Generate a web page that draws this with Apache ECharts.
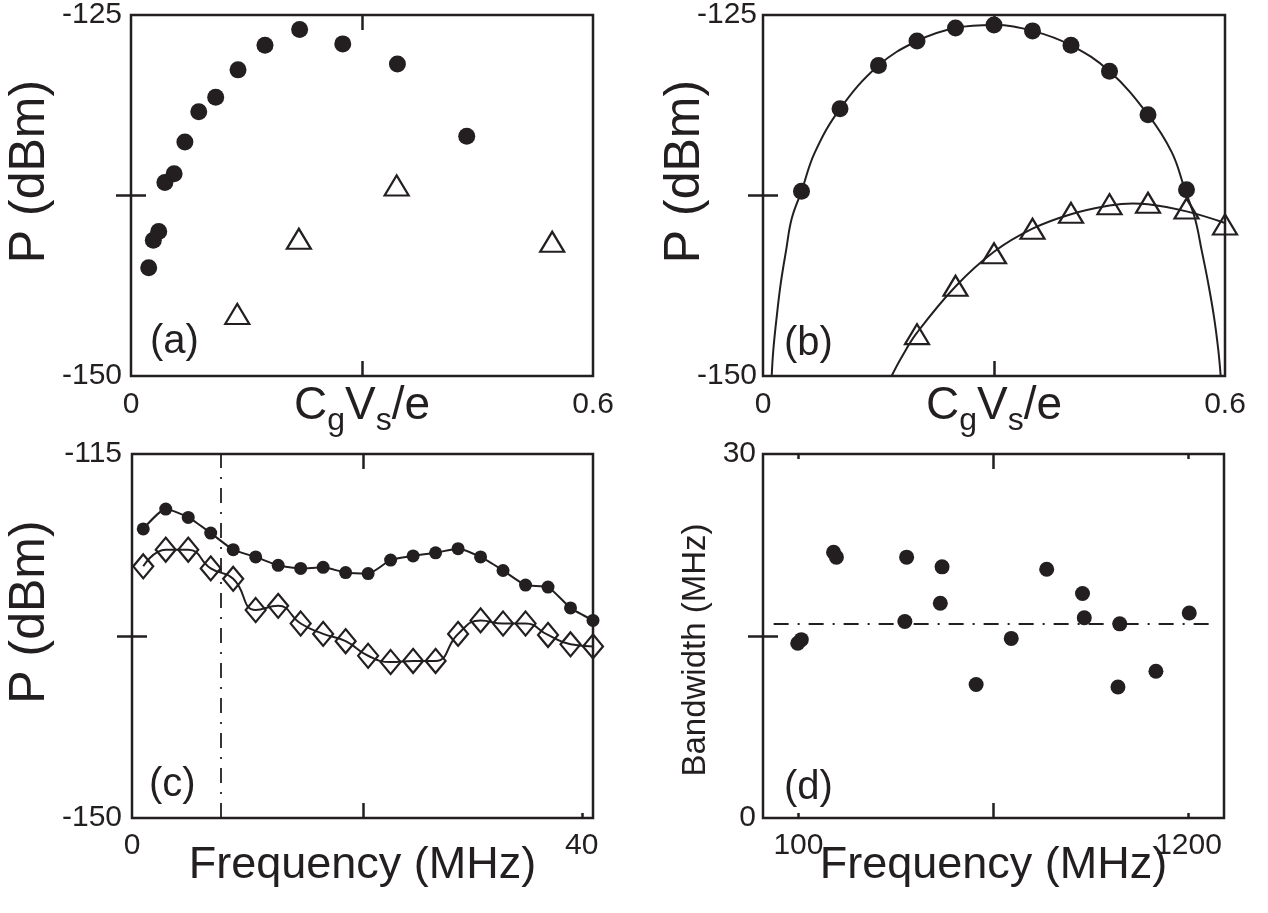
<!DOCTYPE html>
<html>
<head>
<meta charset="utf-8">
<script src="https://cdn.jsdelivr.net/npm/echarts@6/dist/echarts.min.js"></script>
<style>
html,body{margin:0;padding:0;background:#fff;}
#chart{width:1268px;height:913px;}
</style>
</head>
<body>
<div id="chart"></div>
<script>
// ---------- data ----------
// panel (a)
const aCircleX = [0.023,0.029,0.036,0.044,0.056,0.070,0.088,0.110,0.139,0.174,0.219,0.275,0.346,0.436];
const aCircleY = [-142.5,-140.6,-140.0,-136.6,-136.0,-133.8,-131.7,-130.7,-128.8,-127.1,-126.0,-127.0,-128.4,-133.4];
const aTriX = [0.138,0.218,0.345,0.547];
const aTriY = [-145.7,-140.5,-136.8,-140.7];
// panel (b)
const bCircleX = [0.05,0.10,0.15,0.20,0.25,0.30,0.35,0.40,0.45,0.50,0.55];
const bCircleY = [-137.2,-131.5,-128.5,-126.8,-125.9,-125.7,-126.1,-127.1,-128.9,-131.9,-137.1];
const bTriX = [0.20,0.25,0.30,0.35,0.40,0.45,0.50,0.55,0.60];
const bTriY = [-147.1,-143.75,-141.5,-139.8,-138.7,-138.1,-138.0,-138.4,-139.5];
const bFitCircleX = [0.0113,0.0134,0.0178,0.023,0.030,0.0373,0.05,0.0675,0.10,0.15,0.20,0.25,0.30,0.35,0.40,0.45,0.50,0.5308,0.548,0.561,0.5697,0.5783,0.5857,0.5913,0.5944];
const bFitCircleY = [-150,-148.2,-145.9,-143.6,-141.3,-139.1,-137.2,-134.5,-131.5,-128.5,-126.8,-125.9,-125.7,-126.1,-127.1,-128.9,-131.9,-134.5,-137.1,-139.1,-141.3,-143.6,-145.9,-148.2,-150];
const bFitTriX = [0.167,0.18,0.20,0.25,0.30,0.35,0.40,0.45,0.48,0.50,0.55,0.60];
const bFitTriY = [-150,-148.7,-147.0,-143.8,-141.4,-139.8,-138.8,-138.2,-138.05,-138.1,-138.6,-139.4];
// panel (c)
const cFreq = [1,3,5,7,9,11,13,15,17,19,21,23,25,27,29,31,33,35,37,39,41];
const cCircle = [-122.2,-120.3,-121.1,-122.6,-124.2,-124.9,-125.7,-126.0,-125.9,-126.4,-126.5,-125.2,-124.8,-124.5,-124.1,-124.9,-126.2,-127.6,-127.8,-129.8,-131.0];
const cDiamond = [-125.8,-124.2,-124.2,-126.0,-127.0,-130.0,-129.6,-131.3,-132.3,-133.0,-134.4,-135.0,-134.9,-134.9,-132.3,-131.0,-131.3,-131.3,-132.4,-133.3,-133.5];
const cCutoff = 7.9;
// panel (d)
const dFreq = [98,108,199,207,400,405,500,505,601,700,800,901,906,1001,1006,1108,1202];
const dBandwidth = [14.4,14.7,21.9,21.5,16.2,21.5,17.7,20.7,11.0,14.8,20.5,18.5,16.5,10.8,16.0,12.1,16.9];
const dMean = 16;
const dMeanFrom = 30, dMeanTo = 1277;

// tick / label values
const aXLabels = [0, 0.6], aXTicks = [0.3];
const pYLabelsAB = [-150, -125], pYTicksAB = [-137.5];
const cXLabels = [0, 40], cXTicks = [20.6], cXSmallTicks = [40];
const cYLabels = [-150, -115], cYTicks = [-132.5];
const dXLabels = [100, 1200], dXTicks = [650], dXSmallTicks = [100, 1200];
const dYLabels = [0, 30], dYTicks = [15];

// ---------- helpers ----------
const INK = '#231f20';
const FONT = '"Liberation Sans", Arial, sans-serif';
const zip = (xs, ys) => xs.map((x, i) => [x, ys[i]]);

function axis(opt) {
  const a = {
    type: 'value',
    gridIndex: opt.grid,
    position: opt.position,
    min: opt.min, max: opt.max,
    axisLine: {show: false},
    splitLine: {show: false},
    axisTick: {
      show: !!opt.ticks,
      inside: true,
      length: opt.tickLen || 15,
      customValues: opt.ticks || [],
      lineStyle: {color: INK, width: 2.5}
    },
    axisLabel: opt.labels ? {
      show: true,
      customValues: opt.labels,
      formatter: v => String(v),
      fontSize: 30,
      color: INK,
      fontFamily: FONT,
      margin: opt.labelMargin || 10
    } : {show: false}
  };
  if (opt.name) {
    a.name = opt.name;
    a.nameLocation = 'middle';
    a.nameGap = opt.nameGap;
    a.nameMoveOverlap = false;
    a.nameTextStyle = Object.assign({fontSize: 45, color: INK, fontFamily: FONT}, opt.nameStyle || {});
  }
  return a;
}

const cgName = '{m|C}{s|g}{m|V}{s|s}{m|/e}';
const cgStyle = {
  rich: {
    m: {fontSize: 46, verticalAlign: 'top', color: INK, fontFamily: FONT},
    s: {fontSize: 32, lineHeight: 54, verticalAlign: 'bottom', color: INK, fontFamily: FONT}
  }
};
const pStyle = {fontSize: 50, padding: [0, 0, 0, 48]};
const bwStyle = {fontSize: 33, padding: [0, 28, 0, 0]};

const grids = [
  {left: 131, top: 12, width: 462, height: 364},
  {left: 763, top: 12, width: 462, height: 364},
  {left: 132, top: 454, width: 461, height: 364},
  {left: 763, top: 454, width: 461, height: 364}
].map(g => Object.assign(g, {show: true, borderColor: INK, borderWidth: 2.5, backgroundColor: 'transparent'}));

const xAxes = [
  axis({grid: 0, position: 'bottom', min: 0, max: 0.6, ticks: aXTicks, labels: aXLabels, labelMargin: 14, name: cgName, nameGap: 7, nameStyle: cgStyle}),
  axis({grid: 0, position: 'top', min: 0, max: 0.6, ticks: aXTicks}),
  axis({grid: 1, position: 'bottom', min: 0, max: 0.6, ticks: aXTicks, labels: aXLabels, labelMargin: 14, name: cgName, nameGap: 7, nameStyle: cgStyle}),
  axis({grid: 1, position: 'top', min: 0, max: 0.6, ticks: aXTicks}),
  axis({grid: 2, position: 'bottom', min: 0, max: 41, ticks: cXTicks, labels: cXLabels, labelMargin: 13, name: 'Frequency (MHz)', nameGap: 25}),
  axis({grid: 2, position: 'bottom', min: 0, max: 41, ticks: cXSmallTicks, tickLen: 5}),
  axis({grid: 2, position: 'top', min: 0, max: 41, ticks: cXTicks}),
  axis({grid: 3, position: 'bottom', min: 0, max: 1300, ticks: dXTicks, labels: dXLabels, labelMargin: 13, name: 'Frequency (MHz)', nameGap: 25}),
  axis({grid: 3, position: 'bottom', min: 0, max: 1300, ticks: dXSmallTicks, tickLen: 5}),
  axis({grid: 3, position: 'top', min: 0, max: 1300, ticks: dXTicks}),
  axis({grid: 3, position: 'top', min: 0, max: 1300, ticks: dXSmallTicks, tickLen: 5})
];

const yAxes = [
  axis({grid: 0, position: 'left', min: -150, max: -125, ticks: pYTicksAB, labels: pYLabelsAB, labelMargin: 9, name: 'P (dBm)', nameGap: 76, nameStyle: pStyle}),
  axis({grid: 0, position: 'right', min: -150, max: -125, ticks: pYTicksAB}),
  axis({grid: 1, position: 'left', min: -150, max: -125, ticks: pYTicksAB, labels: pYLabelsAB, labelMargin: 6, name: 'P (dBm)', nameGap: 53, nameStyle: pStyle}),
  axis({grid: 1, position: 'right', min: -150, max: -125, ticks: pYTicksAB}),
  axis({grid: 2, position: 'left', min: -150, max: -115, ticks: cYTicks, labels: cYLabels, labelMargin: 10, name: 'P (dBm)', nameGap: 77, nameStyle: pStyle}),
  axis({grid: 2, position: 'right', min: -150, max: -115, ticks: cYTicks}),
  axis({grid: 3, position: 'left', min: 0, max: 30, ticks: dYTicks, labels: dYLabels, labelMargin: 7, name: 'Bandwidth (MHz)', nameGap: 51, nameStyle: bwStyle}),
  axis({grid: 3, position: 'right', min: 0, max: 30, ticks: dYTicks})
];

const dot = (size) => ({symbol: 'circle', symbolSize: size, itemStyle: {color: INK, opacity: 1}});
const hollow = (symbol, size) => ({symbol: symbol, symbolSize: size, itemStyle: {color: 'rgba(0,0,0,0)', borderColor: INK, borderWidth: 2.2, opacity: 1}});

const series = [
  // (a)
  Object.assign({type: 'scatter', xAxisIndex: 0, yAxisIndex: 0, data: zip(aCircleX, aCircleY)}, dot(17)),
  Object.assign({type: 'scatter', xAxisIndex: 0, yAxisIndex: 0, data: zip(aTriX, aTriY)}, hollow('triangle', [24, 20])),
  // (b)
  {type: 'line', xAxisIndex: 2, yAxisIndex: 2, data: zip(bFitCircleX, bFitCircleY), showSymbol: false, smooth: 0.4, lineStyle: {color: INK, width: 2}, clip: true, z: 2},
  {type: 'line', xAxisIndex: 2, yAxisIndex: 2, data: zip(bFitTriX, bFitTriY), showSymbol: false, smooth: 0.4, lineStyle: {color: INK, width: 2}, clip: true, z: 2},
  Object.assign({type: 'scatter', xAxisIndex: 2, yAxisIndex: 2, data: zip(bCircleX, bCircleY), z: 3}, dot(17)),
  Object.assign({type: 'scatter', xAxisIndex: 2, yAxisIndex: 2, data: zip(bTriX, bTriY), z: 3, clip: false}, hollow('triangle', [24, 20])),
  // (c)
  Object.assign({type: 'line', xAxisIndex: 4, yAxisIndex: 4, data: zip(cFreq, cCircle), smooth: 0.2, showSymbol: true,
    lineStyle: {color: INK, width: 2},
    markLine: {silent: true, symbol: 'none', label: {show: false},
      lineStyle: {color: INK, width: 1.8, type: [15, 9, 2, 9]},
      data: [{xAxis: cCutoff}]}
  }, dot(13)),
  Object.assign({type: 'line', xAxisIndex: 4, yAxisIndex: 4, data: zip(cFreq, cDiamond), smooth: 0.5, showSymbol: true, clip: false,
    lineStyle: {color: INK, width: 2}}, hollow('diamond', [20, 24])),
  // (d)
  Object.assign({type: 'scatter', xAxisIndex: 7, yAxisIndex: 6, data: zip(dFreq, dBandwidth),
    markLine: {silent: true, symbol: 'none', label: {show: false},
      lineStyle: {color: INK, width: 1.8, type: [15, 9, 2, 9]},
      data: [[{coord: [dMeanFrom, dMean]}, {coord: [dMeanTo, dMean]}]]}
  }, dot(15))
];

const panelLabel = (txt, x, y) => ({type: 'text', left: x, top: y, style: {text: txt, fontSize: 40, fill: INK, fontFamily: FONT}});

const chart = echarts.init(document.getElementById('chart'), null, {renderer: 'canvas'});
chart.setOption({
  animation: false,
  backgroundColor: '#fff',
  grid: grids,
  xAxis: xAxes,
  yAxis: yAxes,
  series: series,
  graphic: [
    panelLabel('(a)', 150, 322),
    panelLabel('(b)', 784, 324),
    panelLabel('(c)', 149, 765),
    panelLabel('(d)', 784, 768)
  ]
});
</script>
</body>
</html>
